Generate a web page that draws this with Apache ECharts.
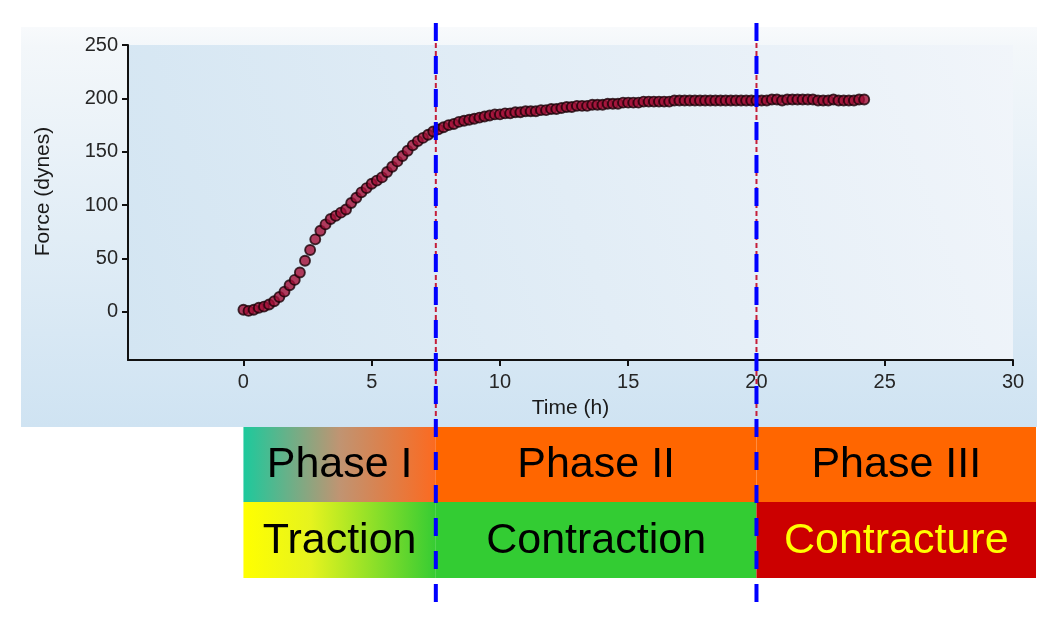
<!DOCTYPE html>
<html><head><meta charset="utf-8">
<script src="https://cdn.jsdelivr.net/npm/echarts@6/dist/echarts.min.js"></script>
<style>html,body{margin:0;padding:0;background:#fff}#c{width:1050px;height:625px}</style>
</head><body><div id="c"></div>
<script>
// ---- data ----
const times = [0.0,0.2,0.4,0.6,0.8,1.0,1.2,1.4,1.6,1.8,2.0,2.2,2.4,2.6,2.8,3.0,3.2,3.4,3.6,3.8,
  4.0,4.2,4.4,4.6,4.8,5.0,5.2,5.4,5.6,5.8,6.0,6.2,6.4,6.6,6.8,7.0,7.2,7.4,7.6,7.8,
  8.0,8.2,8.4,8.6,8.8,9.0,9.2,9.4,9.6,9.8,10.0,10.2,10.4,10.6,10.8,11.0,11.2,11.4,11.6,11.8,
  12.0,12.2,12.4,12.6,12.8,13.0,13.2,13.4,13.6,13.8,14.0,14.2,14.4,14.6,14.8,15.0,15.2,15.4,15.6,15.8,
  16.0,16.2,16.4,16.6,16.8,17.0,17.2,17.4,17.6,17.8,18.0,18.2,18.4,18.6,18.8,19.0,19.2,19.4,19.6,19.8,
  20.0,20.2,20.4,20.6,20.8,21.0,21.2,21.4,21.6,21.8,22.0,22.2,22.4,22.6,22.8,23.0,23.2,23.4,23.6,23.8,
  24.0,24.2];
const force = [2,1,2,4,5,7,10,14,19,25,30,37,48,58,68,76,82,87,90,93,
  96,102,107,112,116,120,123,126,131,136,141,146,151,156,160,163,166,169,171,173,
  175,176,178,179,180,181,182,183,184,185,185,186,186,187,187,188,188,188,189,189,
  190,190,191,192,192,193,193,193,194,194,194,195,195,195,196,196,196,196,197,197,
  197,197,197,197,198,198,198,198,198,198,198,198,198,198,198,198,198,198,198,198,
  198,198,198,199,199,198,199,199,199,199,199,199,198,198,198,199,198,198,198,198,
  199,199];
const xTicks = [0,5,10,15,20,25,30];
const yTicks = [0,50,100,150,200,250];
const phaseStarts = [0, 7.5, 20];
const phaseNames = ['Phase I','Phase II','Phase III'];
const stageNames = ['Traction','Contraction','Contracture'];

const FONT = '"Liberation Sans", Arial, Helvetica, sans-serif';
const chart = echarts.init(document.getElementById('c'), null, {renderer:'canvas'});
chart.setOption({
  animation:false,
  backgroundColor:'#ffffff',
  grid:{left:128, top:45, width:885, height:315, containLabel:false, outerBoundsMode:'none'},
  xAxis:{type:'value', min:-4.5, max:30,
    name:'Time (h)', nameLocation:'middle', nameGap:38,
    nameTextStyle:{fontFamily:FONT, fontSize:21, color:'#1a1a1a'},
    axisLine:{onZero:false, lineStyle:{color:'#111', width:2}},
    axisTick:{show:true, customValues:xTicks, length:6, lineStyle:{color:'#111', width:2}},
    axisLabel:{customValues:xTicks, fontFamily:FONT, fontSize:20, color:'#262626', margin:12},
    splitLine:{show:false}},
  yAxis:{type:'value', min:-45, max:250,
    name:'Force (dynes)', nameLocation:'middle', nameGap:74,
    nameTextStyle:{fontFamily:FONT, fontSize:21, color:'#1a1a1a', padding:[0,0,0,22]},
    axisLine:{onZero:false, lineStyle:{color:'#111', width:2}},
    axisTick:{show:true, customValues:yTicks, length:6, lineStyle:{color:'#111', width:2}},
    axisLabel:{customValues:yTicks, fontFamily:FONT, fontSize:20, color:'#262626', margin:10},
    splitLine:{show:false}},
  series:[{type:'scatter', data:times.map((t,i)=>[t,force[i]]), symbol:'circle', symbolSize:10,
    itemStyle:{color:'#a20e36', borderColor:'#1a0006', borderWidth:1.9}, z:5}]
});

const X = v => chart.convertToPixel({xAxisIndex:0}, v);
const Y = v => chart.convertToPixel({yAxisIndex:0}, v);

const panel = {x:21, y:27, w:1016, h:400};
const rowTop = 427, rowMid = 502, rowBot = 578, boxRight = 1036;
const ix0 = X(-4.5), ix1 = X(30), iy0 = Y(250), iy1 = Y(-45);
const bx = [X(phaseStarts[0]), X(phaseStarts[1]), X(phaseStarts[2]), boxRight];

const els = [];
els.push({type:'rect', z:-20, shape:{x:panel.x, y:panel.y, width:panel.w, height:panel.h},
  style:{fill:new echarts.graphic.LinearGradient(0,0,0,1,[
    {offset:0,color:'#f8fafc'},{offset:0.05,color:'#f3f7fa'},{offset:1,color:'#cfe3f2'}])}});
els.push({type:'rect', z:-19, shape:{x:ix0, y:iy0, width:ix1-ix0, height:iy1-iy0},
  style:{fill:new echarts.graphic.LinearGradient(0,1,1,0,[
    {offset:0,color:'#d3e5f2'},{offset:1,color:'#f1f5fa'}])}});

const topFills = [
  new echarts.graphic.LinearGradient(0,0,1,0,[{offset:0,color:'#1dc99c'},{offset:0.5,color:'#c09472'},{offset:1,color:'#fc6a20'}]),
  '#ff6600','#ff6600'];
const botFills = [
  new echarts.graphic.LinearGradient(0,0,1,0,[{offset:0,color:'#ffff00'},{offset:0.35,color:'#e6f31e'},{offset:1,color:'#36cc33'}]),
  '#33cc33','#cc0000'];
const botText = ['#000','#000','#ffff00'];
for (let i=0;i<3;i++){
  const w = bx[i+1]-bx[i];
  els.push({type:'rect', z:10, shape:{x:bx[i], y:rowTop, width:w, height:rowMid-rowTop}, style:{fill:topFills[i]}});
  els.push({type:'rect', z:10, shape:{x:bx[i], y:rowMid, width:w, height:rowBot-rowMid}, style:{fill:botFills[i]}});
  els.push({type:'text', z:11, x:bx[i]+w/2, y:(rowTop+rowMid)/2+1,
    style:{text:phaseNames[i], font:'43px '+FONT, fill:'#000', align:'center', verticalAlign:'middle'}});
  els.push({type:'text', z:11, x:bx[i]+w/2, y:(rowMid+rowBot)/2+1,
    style:{text:stageNames[i], font:'43px '+FONT, fill:botText[i], align:'center', verticalAlign:'middle'}});
}
[phaseStarts[1], phaseStarts[2]].forEach(t=>{
  const x = X(t);
  els.push({type:'line', z:20, shape:{x1:x, y1:panel.y, x2:x, y2:panel.y+panel.h},
    style:{stroke:'#c41e3a', lineWidth:2, lineDash:[5,3]}});
  els.push({type:'line', z:21, shape:{x1:x, y1:23, x2:x, y2:607},
    style:{stroke:'#0000ff', lineWidth:4, lineDash:[18,15]}});
});
chart.setOption({graphic:{elements:els}});
</script></body></html>
